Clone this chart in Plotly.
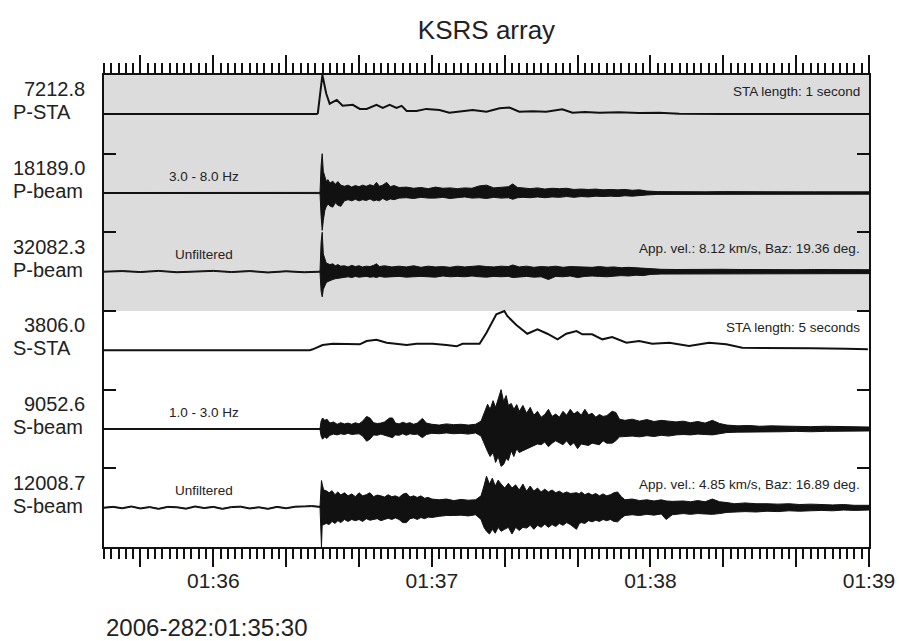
import plotly.graph_objects as go

# ---------------------------------------------------------------------------
# Time axis: seconds after 2006-282:01:35:30
# ---------------------------------------------------------------------------
t_start_label = "2006-282:01:35:30"
t_end = 210
tick_seconds = [10, 30, 50, 70, 90, 110, 130, 150, 170, 190, 210]
tick_labels = ["", "01:36", "", "", "01:37", "", "", "01:38", "", "", "01:39"]

# Channel names and peak amplitudes (top to bottom)
channel_names = ["P-STA", "P-beam", "P-beam", "S-STA", "S-beam", "S-beam"]
peak_values = [7212.8, 18189.0, 32082.3, 3806.0, 9052.6, 12008.7]
inner_left_notes = ["", "3.0 - 8.0 Hz", "Unfiltered", "", "1.0 - 3.0 Hz", "Unfiltered"]
inner_right_notes = ["STA length: 1 second", "", "App. vel.: 8.12 km/s, Baz: 19.36 deg.",
                     "STA length: 5 seconds", "", "App. vel.: 4.85 km/s, Baz: 16.89 deg."]

# ---------------------------------------------------------------------------
# STA traces (amplitude units)
# ---------------------------------------------------------------------------
p_sta_t = [0, 20, 40, 58.4, 58.7, 59.95, 61.0, 61.95, 63.9, 65.5, 68.3, 70.2, 72.1,
           74.8, 76.5, 78.4, 80.3, 81.7, 83.1, 85.8, 88.5, 92.1, 94.8, 98.0, 101.2,
           105.0, 108.6, 111.3, 114.0, 117.6, 121.4, 125.8, 128.6, 132.0, 136.0,
           141.4, 146.9, 152.4, 157.9, 170.0, 185.0, 200.0, 210.0]
p_sta_v = [60, 60, 60, 60, 200, 7212.8, 3823, 1940, 2636, 1563, 1751, 998, 998,
           1751, 1186, 1751, 1186, 1563, 621, 621, 998, 810, 301, 560, 810,
           490, 1130, 1243, 490, 560, 490, 942, 301, 420, 301,
           377, 245, 283, 94, 70, 60, 60, 60]

s_sta_t = [0, 30, 56.5, 57.3, 60.0, 62.8, 67.4, 70.2, 72.1, 74.8, 77.6, 80.3, 83.1,
           85.8, 90.2, 94.0, 96.8, 98.4, 103.1, 105.0, 107.7, 109.9, 110.7, 113.2,
           116.2, 119.0, 121.7, 124.5, 126.9, 129.7, 131.3, 134.0, 136.8, 139.5,
           143.4, 146.9, 150.5, 155.2, 160.6, 166.1, 170.8, 175.2, 185.3, 194.4,
           203.7, 209.7]
s_sta_v = [20, 20, 20, 97, 513, 639, 581, 581, 901, 1027, 736, 639, 513,
           639, 639, 513, 387, 639, 639, 1705, 3487, 3806.0, 3322, 2450,
           1608, 2034, 1608, 1065, 1608, 1869, 1550, 1550, 1065, 1288,
           736, 901, 639, 736, 416, 736, 581, 252, 252, 194,
           155, 97]

# ---------------------------------------------------------------------------
# Beam traces: upper / lower envelope, relative to each channel's peak
# ---------------------------------------------------------------------------
pb_hf_t = [0, 30, 50, 59.3, 59.6, 59.9, 60.2, 60.6, 61.0, 61.5, 62.0, 62.8, 63.5, 64.2,
           65.0, 66, 67, 68, 69, 70, 71, 72, 73, 74, 74.8, 75.6, 76.5, 77.6, 78.6, 79.6,
           81, 83, 85, 87, 89, 91, 93, 95, 97, 99, 101, 103, 105, 107, 109, 111, 112.2,
           113.5, 115, 117, 119, 121, 123, 125, 127, 129, 131, 133, 135, 137, 139, 141,
           143, 145, 147, 149, 152, 156, 160, 165, 170, 175, 180, 185, 190, 195, 200,
           205, 210]
pb_hf_hi = [.012, .012, .012, .015, .70, 1.0, .55, .38, .30, .34, .25, .30, .22, .29,
            .20, .17, .20, .15, .19, .16, .20, .17, .21, .18, .27, .17, .20, .27, .16, .19,
            .14, .15, .12, .14, .11, .15, .12, .13, .11, .13, .12, .18, .20, .13, .14, .16, .23,
            .14, .13, .11, .13, .10, .12, .11, .12, .09, .10, .09, .10, .08, .09, .08,
            .09, .07, .08, .05, .035, .03, .035, .03, .035, .03, .03, .035, .03, .03, .03,
            .035, .03]
pb_hf_lo = [-.012, -.012, -.012, -.015, -.60, -.95, -.70, -.45, -.35, -.28, -.33, -.36, -.25, -.31,
            -.34, -.20, -.17, -.20, -.16, -.20, -.17, -.19, -.15, -.20, -.18, -.20, -.14, -.19, -.15, -.17,
            -.13, -.12, -.14, -.11, -.13, -.13, -.11, -.14, -.12, -.10, -.13, -.12, -.14, -.11, -.13, -.12, -.16,
            -.12, -.11, -.12, -.10, -.12, -.10, -.11, -.09, -.11, -.09, -.10, -.08, -.09, -.08, -.09,
            -.07, -.08, -.07, -.05, -.035, -.035, -.03, -.03, -.03, -.035, -.03, -.03, -.03, -.035, -.03,
            -.03, -.03]

pb_raw_t = [0, 5, 10, 15, 20, 25, 30, 35, 40, 45, 50, 55, 59.3, 59.6, 59.9, 60.2, 60.6,
            61.0, 61.5, 62.0, 62.8, 63.5, 64.2, 65.0, 66, 67, 68, 69, 70, 71, 72, 73, 74,
            74.8, 75.6, 77, 79, 81, 83, 85, 87, 89, 91, 93, 95, 97, 99, 101, 103, 105, 107,
            109, 111, 112.2, 114, 116, 118, 120, 122, 124, 126, 128, 130, 132, 134, 136,
            138, 140, 142, 144, 146, 148, 150, 153, 157, 161, 165, 170, 175, 180, 185,
            190, 195, 200, 205, 210]
pb_raw_hi = [.012, .027, .002, .032, -.003, .022, .032, .002, .027, -.008, .022, -.003, .012,
             .75, 1.0, .45, .30, .22, .20, .18, .20, .15, .18, .14, .15, .12, .16, .13, .15,
             .12, .14, .13, .16, .20, .13, .15, .12, .14, .12, .15, .11, .14, .12, .13, .11,
             .14, .12, .13, .15, .13, .12, .14, .13, .17, .12, .14, .11, .13, .12, .14, .11,
             .13, .12, .12, .11, .13, .11, .12, .10, .11, .10, .09, .07, .06, .055, .06,
             .05, .06, .055, .05, .06, .05, .055, .05, .06, .05]
pb_raw_lo = [-.012, .003, -.022, .008, -.027, -.002, .008, -.022, .003, -.032, -.002, -.027, -.012,
             -.50, -.64, -.45, -.35, -.28, -.25, -.22, -.20, -.18, -.16, -.15, -.14, -.13, -.15, -.12, -.14,
             -.13, -.12, -.14, -.13, -.15, -.12, -.14, -.13, -.12, -.14, -.13, -.12, -.13, -.14, -.11, -.13,
             -.12, -.13, -.11, -.13, -.14, -.12, -.13, -.12, -.15, -.13, -.12, -.14, -.13, -.20, -.12, -.13,
             -.11, -.15, -.12, -.11, -.12, -.13, -.11, -.10, -.11, -.09, -.10, -.07, -.06, -.055, -.05,
             -.06, -.05, -.055, -.06, -.05, -.05, -.055, -.05, -.05, -.05]

sb_hf_t = [0, 30, 59.3, 59.6, 60.0, 60.6, 61.2, 62, 63, 64, 65, 66, 67, 68, 69, 70, 71,
           72.1, 73, 74, 75, 76, 77, 78.4, 79.2, 80, 81, 82, 83, 84, 85, 86, 87.4, 88.5,
           90, 92, 94, 96, 98, 100, 102, 103.5, 104.5, 105.3, 106, 106.8, 107.5, 108.2,
           109, 109.7, 110.4, 111, 111.8, 112.5, 113.3, 114, 115, 116, 117, 118, 119, 120,
           121, 122, 123, 124, 125, 126, 127, 128, 129, 130, 131, 132, 133, 134, 135, 136,
           137, 138, 139.5, 140.5, 141.5, 143, 145, 147, 149, 151, 153, 155, 157, 159, 161,
           163, 165, 167, 169, 171, 174, 177, 180, 183, 186, 190, 194, 198, 202, 206, 210]
sb_hf_hi = [.012, .012, .012, .20, .28, .22, .25, .15, .18, .12, .16, .13, .15, .12, .16, .13, .20,
            .32, .28, .16, .14, .15, .18, .28, .28, .15, .13, .17, .14, .16, .12, .15, .27, .15,
            .12, .10, .13, .11, .12, .10, .12, .20, .45, .63, .50, .72, .55, .79,
            1.0, .70, .85, .60, .65, .50, .62, .45, .60, .40, .55, .35, .45, .30,
            .37, .50, .32, .38, .30, .45, .35, .50, .38, .45, .35, .50, .36, .40, .30, .37,
            .32, .34, .45, .42, .25, .22, .25, .20, .24, .19, .22, .20, .18, .20, .16,
            .19, .15, .22, .14, .10, .08, .09, .07, .08, .07, .07, .06, .07, .06, .06, .05]
sb_hf_lo = [-.012, -.012, -.012, -.18, -.26, -.20, -.24, -.16, -.13, -.15, -.12, -.14, -.11, -.14, -.13, -.12, -.18,
            -.31, -.26, -.15, -.16, -.13, -.15, -.20, -.22, -.15, -.16, -.12, -.16, -.12, -.14, -.13, -.22, -.14,
            -.11, -.12, -.10, -.12, -.11, -.13, -.10, -.18, -.40, -.57, -.70, -.60, -.85, -.70,
            -.95, -.90, -.75, -.80, -.55, -.70, -.50, -.60, -.55, -.50, -.45, -.42, -.38, -.40,
            -.33, -.45, -.36, -.30, -.35, -.40, -.30, -.42, -.35, -.50, -.38, -.40, -.42, -.36, -.38, -.40,
            -.30, -.36, -.36, -.30, -.20, -.19, -.18, -.20, -.17, -.19, -.16, -.18, -.15, -.14, -.15,
            -.13, -.14, -.15, -.12, -.09, -.08, -.07, -.08, -.07, -.07, -.06, -.07, -.06, -.06, -.05, -.05]

sb_raw_t = [0, 2.5, 5, 7.5, 10, 12.5, 15, 17.5, 20, 22.5, 25, 27.5, 30, 32.5, 35, 37.5,
            40, 42.5, 45, 47.5, 50, 52.5, 55, 57, 59.3, 59.5, 59.7, 59.9, 60.3, 61, 61.8,
            62.6, 63.4, 64.2, 65, 66, 67, 68, 69, 70, 71, 72, 73, 74, 75, 76, 77, 78, 79,
            80, 81, 82, 83, 84, 85, 86, 87, 88, 89, 90, 92, 94, 96, 98, 100, 102, 103.5,
            104.3, 105, 105.8, 106.6, 107.4, 108.2, 109, 110, 111, 112, 113, 114, 115, 116,
            117, 118, 119, 120, 121, 122, 123, 124, 125, 126, 127, 128, 129.7, 130.5, 131,
            132, 133, 134, 135, 136, 137, 138, 139, 140, 141, 142, 143, 145, 147, 149, 151,
            153, 154.3, 156, 159, 161, 163, 165, 167, 169, 171, 173, 176, 179, 182, 185,
            188, 191, 194, 197, 200, 203, 206, 210]
sb_raw_mid_pre = [0, .02, -.015, .03, -.02, .015, -.03, .02, .01, -.025, .03, -.01, .02, -.03,
                  .015, .025, -.02, .01, -.03, .02, -.015, .025, .03, .04, .02]
sb_raw_hi_post = [.30, .69, .60, .45, .43, .38,
                  .43, .33, .40, .32, .38, .30, .35, .28, .38, .30, .33, .38, .28, .32, .30, .27, .33, .28,
                  .30, .26, .34, .37, .27, .30, .26, .30, .24, .26, .22, .20, .22, .18, .21, .19, .20, .30,
                  .55, .80, .60, .75, .55, .70, .60, .50, .62, .50, .58, .45, .60, .42,
                  .55, .42, .50, .40, .47, .40, .45, .38, .42, .36, .40, .36, .38, .35, .40,
                  .33, .37, .32, .36, .30, .35, .30, .33, .38, .40, .28, .20, .22, .18, .20, .17,
                  .20, .17, .16, .17, .15, .18, .15, .22, .15, .13, .10, .12, .10, .10, .09,
                  .10, .08, .09, .08, .07, .08, .06, .06]
sb_raw_lo_post = [-.30, -1.0, -.45, -.42, -.40, -.43,
                  -.35, -.40, -.33, -.38, -.30, -.35, -.30, -.33, -.30, -.35, -.28, -.32, -.30, -.28, -.33, -.30, -.27, -.30,
                  -.26, -.30, -.38, -.38, -.28, -.26, -.30, -.25, -.28, -.24, -.25, -.22, -.20, -.20, -.19, -.21, -.18, -.30,
                  -.50, -.60, -.67, -.55, -.65, -.50, -.60, -.55, -.50, -.67, -.50, -.58, -.50, -.52,
                  -.45, -.55, -.45, -.50, -.42, -.50, -.43, -.48, -.40, -.45, -.38, -.43, -.55, -.40, -.38,
                  -.40, -.33, -.36, -.32, -.35, -.30, -.33, -.30, -.35, -.36, -.27, -.20, -.18, -.20, -.17, -.19,
                  -.16, -.30, -.18, -.15, -.17, -.15, -.16, -.17, -.15, -.12, -.11, -.10, -.11, -.09, -.10,
                  -.08, -.09, -.08, -.07, -.08, -.06, -.07, -.06]
sb_raw_hi = [m + .013 for m in sb_raw_mid_pre] + sb_raw_hi_post
sb_raw_lo = [m - .013 for m in sb_raw_mid_pre] + sb_raw_lo_post

beams = {
    1: (pb_hf_t, pb_hf_hi, pb_hf_lo),
    2: (pb_raw_t, pb_raw_hi, pb_raw_lo),
    4: (sb_hf_t, sb_hf_hi, sb_hf_lo),
    5: (sb_raw_t, sb_raw_hi, sb_raw_lo),
}
stas = {0: (p_sta_t, p_sta_v), 3: (s_sta_t, s_sta_v)}

n_rows = len(channel_names)
INK = "#111111"
TEXT = "#222222"
FONT = "Liberation Sans, Arial, sans-serif"


def row_center(i):
    return n_rows - i - 0.5


fig = go.Figure()

# Shaded block behind the P-phase channels
fig.add_shape(type="rect", xref="x", yref="y", x0=0, x1=t_end, y0=n_rows - 3, y1=n_rows,
              fillcolor="#dcdcdc", line_width=0, layer="below")

for i, (t, v) in stas.items():
    peak = max(v)
    fig.add_trace(go.Scatter(
        x=t, y=[row_center(i) + 0.5 * a / peak for a in v], mode="lines",
        line=dict(color=INK, width=2), hoverinfo="skip"))

for i, (t, hi, lo) in beams.items():
    hi_a = [h * peak_values[i] for h in hi]
    lo_a = [l * peak_values[i] for l in lo]
    peak = max(max(abs(a) for a in hi_a), max(abs(a) for a in lo_a))
    xs = list(t) + list(t)[::-1]
    ys = [row_center(i) + 0.5 * a / peak for a in hi_a] + \
         [row_center(i) + 0.5 * a / peak for a in lo_a][::-1]
    fig.add_trace(go.Scatter(
        x=xs, y=ys, mode="lines", fill="toself", fillcolor=INK,
        line=dict(color=INK, width=1), hoverinfo="skip"))

annotations = []
for i in range(n_rows):
    c = row_center(i)
    annotations.append(dict(x=0, xref="paper", y=c, yref="y", yshift=25, xshift=-17,
                            text=f"{peak_values[i]:.1f}", showarrow=False, xanchor="right",
                            font=dict(size=20, color=TEXT, family=FONT)))
    annotations.append(dict(x=0, xref="paper", y=c, yref="y", yshift=2, xshift=-93,
                            text=channel_names[i], showarrow=False, xanchor="left",
                            font=dict(size=20, color=TEXT, family=FONT)))
    if inner_left_notes[i]:
        annotations.append(dict(x=27.5, xref="x", y=c, yref="y", yshift=17,
                                text=inner_left_notes[i], showarrow=False, xanchor="center",
                                font=dict(size=13.5, color=TEXT, family=FONT)))
    if inner_right_notes[i]:
        annotations.append(dict(x=1, xref="paper", y=c, yref="y", yshift=23, xshift=-7,
                                text=inner_right_notes[i], showarrow=False, xanchor="right",
                                font=dict(size=13.5, color=TEXT, family=FONT)))

annotations.append(dict(x=0, xref="paper", y=-0.1716, yref="paper", text=t_start_label,
                        showarrow=False, xanchor="left", yanchor="middle",
                        font=dict(size=24, color=TEXT, family=FONT)))

fig.update_layout(
    width=899, height=641,
    margin=dict(l=104, r=30, t=75, b=94),
    paper_bgcolor="white", plot_bgcolor="white",
    showlegend=False,
    title=dict(text="KSRS array", x=0.5, xref="paper", xanchor="center",
               y=1 - 30 / 641, yanchor="middle",
               font=dict(size=26, color=TEXT, family=FONT)),
    annotations=annotations,
    xaxis=dict(range=[0, t_end], tickmode="array", tickvals=tick_seconds, ticktext=tick_labels,
               ticks="outside", ticklen=18, tickwidth=2, tickcolor=INK, automargin=False,
               ticklabelstandoff=-4,
               minor=dict(ticks="outside", ticklen=10, tickwidth=2, tickcolor=INK,
                          tickmode="linear", tick0=0, dtick=2),
               showline=True, linewidth=2, linecolor=INK, mirror="ticks",
               showgrid=False, zeroline=False,
               tickfont=dict(size=21, color=TEXT, family=FONT)),
    yaxis=dict(range=[0, n_rows], tickmode="array", tickvals=list(range(n_rows + 1)),
               ticks="inside", ticklen=12, tickwidth=2, tickcolor=INK, automargin=False,
               showticklabels=False, showline=True, linewidth=2, linecolor=INK,
               mirror="ticks", showgrid=False, zeroline=False),
)

fig.write_html("out.html")
